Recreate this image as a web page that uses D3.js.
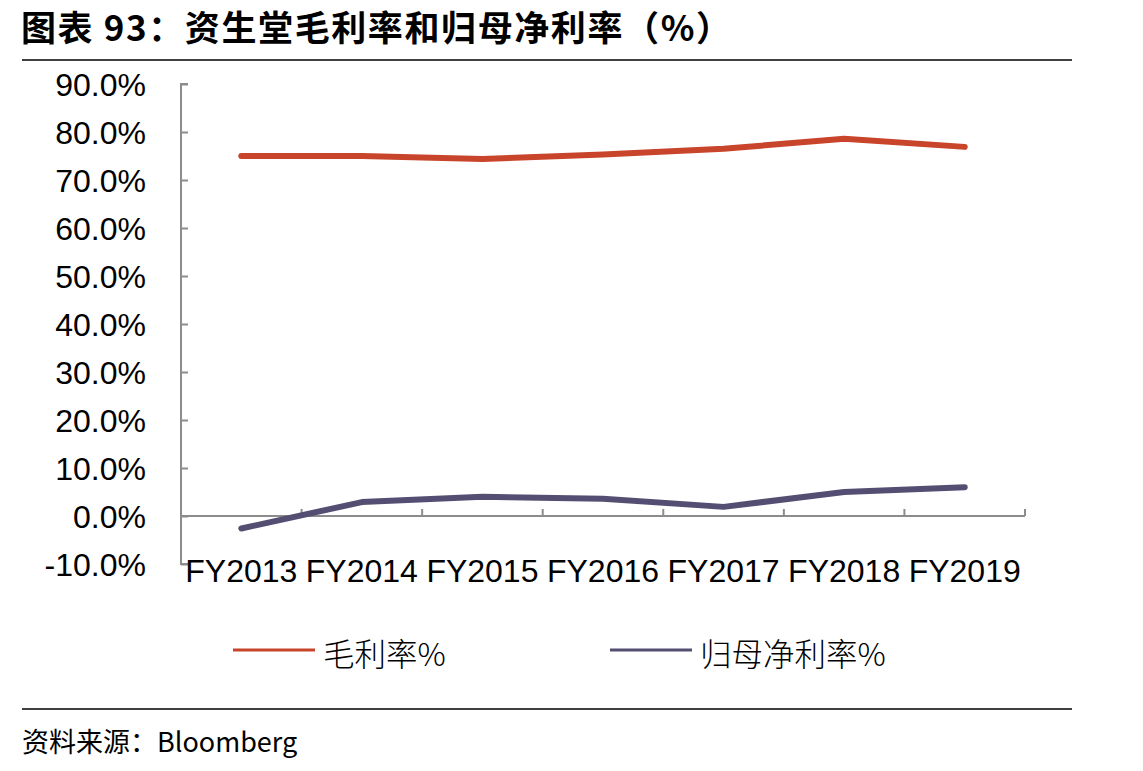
<!DOCTYPE html>
<html>
<head>
<meta charset="utf-8">
<script src="https://cdn.jsdelivr.net/npm/d3@7"></script>
<style>
  body { margin: 0; background: #fff; }
  svg text { fill: #000; }
</style>
</head>
<body>
<div id="chart-area"></div>
<script>
// data
let years = ["FY2013", "FY2014", "FY2015", "FY2016", "FY2017", "FY2018", "FY2019"];
let grossMargin = [75.0, 75.0, 74.4, 75.3, 76.5, 78.6, 76.9];
let netMargin = [-2.6, 2.9, 4.0, 3.6, 1.9, 5.0, 6.0];
let yTicks = [-10, 0, 10, 20, 30, 40, 50, 60, 70, 80, 90];
let seriesNames = ["毛利率%", "归母净利率%"];
let colors = ["#C8442A", "#544F72"];

let W = 1143, H = 771;
let margin = {left: 181, right: 118, top: 84, bottom: 207};
let width = W - margin.left - margin.right,
    height = H - margin.top - margin.bottom;

let root = d3.select("#chart-area")
    .append("svg")
    .attr("width", W)
    .attr("height", H);

// title + rules
root.append("text")
    .attr("x", 21).attr("y", 41)
    .attr("font-family", "'Noto Sans CJK SC'")
    .attr("font-weight", "bold")
    .attr("font-size", 35)
    .attr("letter-spacing", 1.6)
    .text("图表 93：资生堂毛利率和归母净利率（%）");

root.append("line")
    .attr("x1", 22).attr("x2", 1072)
    .attr("y1", 60).attr("y2", 60)
    .attr("stroke", "#000").attr("stroke-width", 1.5);

root.append("line")
    .attr("x1", 22).attr("x2", 1072)
    .attr("y1", 709).attr("y2", 709)
    .attr("stroke", "#000").attr("stroke-width", 1.5);

root.append("text")
    .attr("x", 22).attr("y", 752)
    .attr("font-family", "'Noto Sans CJK SC'")
    .attr("font-size", 27)
    .text("资料来源：Bloomberg");

let svg = root.append("g")
    .attr("transform", `translate(${margin.left},${margin.top})`);

// scales
let x = d3.scaleBand().domain(years).range([0, width]);
let y = d3.scaleLinear().domain([-10, 90]).range([height, 0]);

// y axis: ticks pointing right
let yAxis = svg.append("g")
    .call(d3.axisRight(y).tickValues(yTicks).tickSize(7).tickFormat(""));
yAxis.select(".domain").attr("stroke", "#8c8c8c").attr("stroke-width", 2)
    .attr("d", `M7,0H0V${height}H7`);
yAxis.selectAll(".tick line").attr("stroke", "#8c8c8c").attr("stroke-width", 2);

svg.selectAll(".ylab")
    .data(yTicks)
    .enter().append("text")
    .attr("class", "ylab")
    .attr("x", -35)
    .attr("y", d => y(d))
    .attr("dy", "0.36em")
    .attr("text-anchor", "end")
    .attr("font-family", "'Liberation Sans', Arial")
    .attr("font-size", 32)
    .text(d => d.toFixed(1) + "%");

// x axis at zero, ticks pointing up between categories
let xAxis = svg.append("g")
    .attr("transform", `translate(0,${y(0)})`);
xAxis.append("line")
    .attr("x1", 0).attr("x2", width)
    .attr("stroke", "#8c8c8c").attr("stroke-width", 2);
xAxis.selectAll(".xt")
    .data(years)
    .enter().append("line")
    .attr("x1", d => x(d) + x.bandwidth())
    .attr("x2", d => x(d) + x.bandwidth())
    .attr("y1", 0).attr("y2", -7)
    .attr("stroke", "#8c8c8c").attr("stroke-width", 2);

svg.selectAll(".xlab")
    .data(years)
    .enter().append("text")
    .attr("class", "xlab")
    .attr("x", d => x(d) + x.bandwidth() / 2)
    .attr("y", height + 18)
    .attr("text-anchor", "middle")
    .attr("font-family", "'Liberation Sans', Arial")
    .attr("font-size", 32)
    .text(d => d);

// lines
let line = d3.line()
    .x((d, i) => x(years[i]) + x.bandwidth() / 2)
    .y(d => y(d));

[grossMargin, netMargin].forEach((s, k) => {
    svg.append("path")
        .datum(s)
        .attr("fill", "none")
        .attr("stroke", colors[k])
        .attr("stroke-width", 6)
        .attr("stroke-linecap", "round")
        .attr("stroke-linejoin", "round")
        .attr("d", line);
});

// legend
let legendX = [233, 610];
seriesNames.forEach((name, k) => {
    root.append("line")
        .attr("x1", legendX[k]).attr("x2", legendX[k] + 82)
        .attr("y1", 650).attr("y2", 650)
        .attr("stroke", colors[k]).attr("stroke-width", 3);
    root.append("text")
        .attr("x", legendX[k] + 90).attr("y", 666)
        .attr("font-family", "'Noto Sans CJK SC'")
        .attr("font-weight", 300)
        .attr("font-size", 31.5)
        .text(name);
});
</script>
</body>
</html>
